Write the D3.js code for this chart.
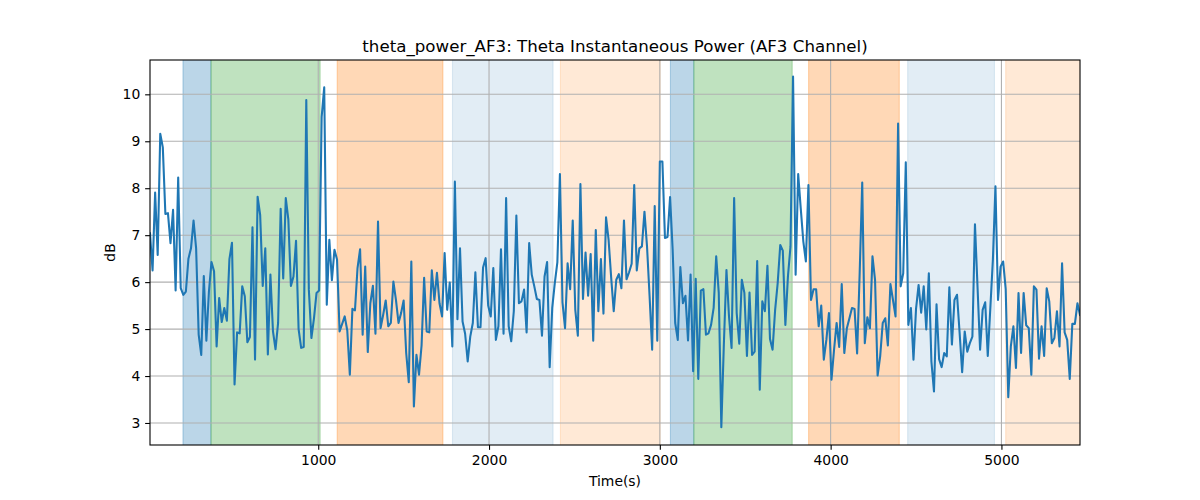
<!DOCTYPE html>
<html><head><meta charset="utf-8">
<script src="https://cdn.jsdelivr.net/npm/d3@7"></script>
<style>body{margin:0;background:#fff}svg text{font-family:"DejaVu Sans",sans-serif}</style>
</head><body><div id="chart"></div>
<script>
const timeStart = 15, timeStep = 15;
const power = [
7.04,6.25,7.91,6.58,9.16,8.87,7.45,7.47,6.83,7.54,5.82,8.23,5.87,5.73,5.80,6.50,6.72,7.31,6.72,4.88,4.45,6.13,4.75,5.80,6.43,6.23,4.63,5.66,5.15,5.45,5.18,6.49,6.84,3.82,4.93,4.91,5.91,
5.70,4.72,4.83,7.17,4.35,7.82,7.43,5.92,6.72,4.46,6.16,4.95,4.57,5.13,7.56,6.08,7.79,7.33,5.92,6.12,6.88,5.00,4.60,4.62,9.88,5.84,4.81,5.23,5.77,5.82,9.52,10.15,5.52,6.90,6.04,6.69,
6.48,4.95,5.11,5.27,4.97,4.03,5.43,5.40,6.30,6.70,4.88,6.33,4.51,5.55,5.92,4.90,7.29,5.02,5.30,5.61,5.06,5.13,6.01,5.62,5.13,5.34,5.61,4.49,3.87,6.44,3.35,4.45,4.03,4.65,6.09,4.95,
4.93,6.25,5.62,6.20,5.55,5.27,6.62,5.41,5.99,4.63,8.14,5.21,6.72,5.16,4.90,4.31,4.84,5.13,6.21,5.04,5.04,6.31,6.51,5.50,5.27,6.30,4.77,5.06,6.70,4.90,7.79,5.06,4.74,5.38,7.42,5.55,
5.59,5.84,4.93,6.83,6.16,5.91,5.64,5.62,4.86,6.12,6.43,4.19,5.45,5.98,6.42,8.30,5.57,5.02,6.40,5.85,7.31,5.41,4.86,8.09,5.64,6.63,5.71,6.60,4.75,7.11,5.38,6.49,5.33,7.38,6.9,6.1,
5.38,6.05,6.17,5.87,7.31,6.06,6.21,6.39,8.07,6.25,6.72,6.76,7.50,6.76,5.70,4.56,7.62,4.75,8.57,8.57,6.94,6.96,7.81,6.69,5.13,4.77,6.32,5.55,5.71,4.76,6.16,4.10,6.07,3.94,5.82,5.85,
4.88,4.91,5.09,5.45,6.55,5.77,2.91,4.70,6.26,5.27,4.60,7.79,5.34,4.69,6.05,5.77,4.43,5.78,4.45,4.52,6.45,3.71,5.59,5.38,6.35,4.79,4.56,5.41,5.98,6.79,6.67,5.09,6.12,6.76,10.38,6.16,
8.30,7.57,6.87,6.44,8.07,5.62,5.85,5.85,5.06,5.50,4.35,4.77,5.34,3.92,4.56,5.13,4.62,5.96,4.49,5.02,5.23,5.45,5.43,4.48,6.19,8.12,4.70,5.25,5.02,6.55,6.05,4.01,4.42,5.13,5.23,4.65,
5.96,5.62,5.27,9.38,5.91,6.19,8.55,5.09,5.45,4.35,5.43,5.94,5.35,5.91,4.99,6.19,4.31,3.67,5.53,4.36,4.19,4.49,4.42,5.89,4.67,5.62,5.73,4.93,4.08,4.95,4.52,4.70,4.84,7.23,5.9,4.56,
5.41,5.57,4.43,5.45,6.48,8.04,5.62,6.33,6.44,5.85,3.55,4.63,5.06,4.17,5.77,4.49,5.77,5.08,5.02,4.03,5.91,5.84,4.37,5.06,4.43,5.87,5.59,4.70,4.81,5.38,4.63,6.40,4.93,4.77,3.94,5.11,5.11,5.55,5.30
];
const spanStart = [208, 372, 1111, 1786, 2418, 3062, 3199, 3871, 4451, 5025];
const spanEnd   = [372, 1011, 1730, 2375, 3002, 3199, 3775, 4402, 4959, 5600];
const spanKind  = ["blue","green","orange","lblue","lorange","blue","green","orange","lblue","lorange"];
const xTicks = [1000, 2000, 3000, 4000, 5000];
const yTicks = [3, 4, 5, 6, 7, 8, 9, 10];

const kindColor = {blue:"#1f77b4", green:"#2ca02c", orange:"#ff7f0e", lblue:"#1f77b4", lorange:"#ff7f0e"};
const kindAlpha = {blue:0.3, green:0.3, orange:0.3, lblue:0.13, lorange:0.17};

const W = 1200, H = 500, L = 150, R = 1080, T = 60, B = 445;
const data = power.map((v, i) => ({t: timeStart + i * timeStep, v}));
const x = d3.scaleLinear().domain([data[0].t, data[data.length-1].t]).range([L, R]);
const y = d3.scaleLinear().domain([2.531, 10.731]).range([B, T]);

const svg = d3.select("#chart").append("svg").attr("width", W).attr("height", H);
svg.append("defs").append("clipPath").attr("id","clip").append("rect")
  .attr("x", L).attr("y", T).attr("width", R-L).attr("height", B-T);

const plot = svg.append("g").attr("clip-path","url(#clip)");
plot.selectAll("rect.span").data(spanStart.map((s,i)=>({s, e:spanEnd[i], k:spanKind[i]})))
  .enter().append("rect")
  .attr("x", d => x(d.s)).attr("width", d => x(d.e) - x(d.s))
  .attr("y", T - 5).attr("height", B - T + 10)
  .attr("fill", d => kindColor[d.k]).attr("fill-opacity", d => kindAlpha[d.k])
  .attr("stroke", d => kindColor[d.k]).attr("stroke-opacity", d => kindAlpha[d.k]).attr("stroke-width", 1.1);

// grid
const grid = plot.append("g").attr("stroke", "#b0b0b0").attr("stroke-width", 1.1);
xTicks.forEach(t => grid.append("line").attr("x1", x(t)).attr("x2", x(t)).attr("y1", T).attr("y2", B));
yTicks.forEach(t => grid.append("line").attr("x1", L).attr("x2", R).attr("y1", y(t)).attr("y2", y(t)));

plot.append("path").datum(data)
  .attr("fill","none").attr("stroke","#1f77b4").attr("stroke-width",2.08)
  .attr("stroke-linejoin","round").attr("stroke-linecap","square")
  .attr("d", d3.line().x(d => x(d.t)).y(d => y(d.v)));

// axes
const xAxis = d3.axisBottom(x).tickValues(xTicks).tickSize(4.86).tickPadding(4.86).tickFormat(d3.format("d"));
const gx = svg.append("g").attr("transform", `translate(0,${B})`).call(xAxis);
const yAxis = d3.axisLeft(y).tickValues(yTicks).tickSize(4.86).tickPadding(4.86).tickFormat(d3.format("d"));
const gy = svg.append("g").attr("transform", `translate(${L},0)`).call(yAxis);
[gx, gy].forEach(g => {
  g.select(".domain").remove();
  g.selectAll(".tick line").attr("stroke","#000").attr("stroke-width",1.1);
  g.selectAll(".tick text").attr("font-size","13.9px").attr("fill","#000").attr("font-family","DejaVu Sans");
});

svg.append("rect").attr("x", L).attr("y", T).attr("width", R-L).attr("height", B-T)
  .attr("fill","none").attr("stroke","#000").attr("stroke-width",1.1);

svg.append("text").attr("x", (L+R)/2).attr("y", 52).attr("text-anchor","middle")
  .attr("font-size","16.67px").text("theta_power_AF3: Theta Instantaneous Power (AF3 Channel)");
svg.append("text").attr("x", (L+R)/2).attr("y", 486).attr("text-anchor","middle")
  .attr("font-size","13.9px").text("Time(s)");
svg.append("text").attr("transform", `translate(115,${(T+B)/2}) rotate(-90)`).attr("text-anchor","middle")
  .attr("font-size","13.9px").text("dB");
</script></body></html>
